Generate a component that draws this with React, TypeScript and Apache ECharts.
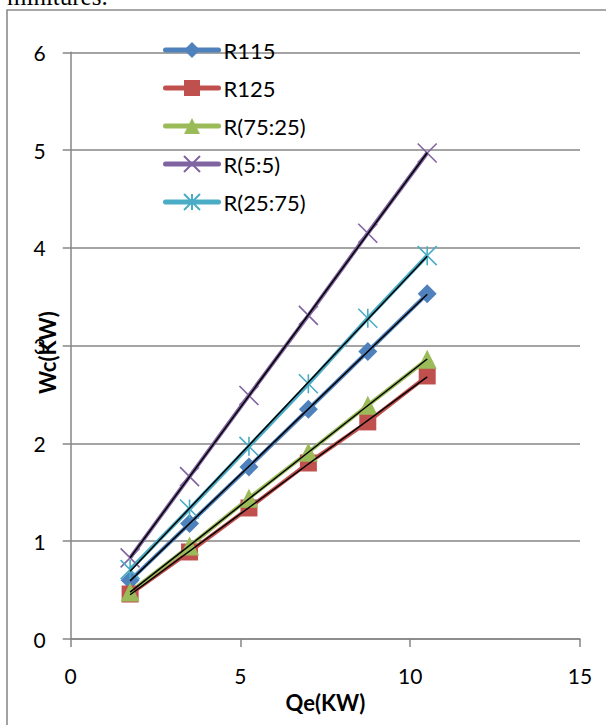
import React, { useEffect, useRef } from "react";
import * as echarts from "echarts";

const qe = [1.75, 3.5, 5.25, 7, 8.75, 10.5];
const r115 = [0.6, 1.18, 1.76, 2.35, 2.94, 3.53];
const r125 = [0.46, 0.89, 1.34, 1.8, 2.22, 2.69];
const r7525 = [0.48, 0.95, 1.44, 1.91, 2.39, 2.86];
const r55 = [0.83, 1.66, 2.49, 3.31, 4.15, 4.97];
const r2575 = [0.71, 1.33, 1.97, 2.61, 3.28, 3.92];

const seriesNames = ["R115", "R125", "R(75:25)", "R(5:5)", "R(25:75)"];
const seriesValues = [r115, r125, r7525, r55, r2575];
const seriesColors = ["#4F81BD", "#C0504D", "#9BBB59", "#8064A2", "#4BACC6"];
const seriesSymbols = [
  "diamond",
  "rect",
  "triangle",
  "path://M0,0L20,20M20,0L0,20",
  "path://M0,0L20,20M20,0L0,20M10,0L10,20",
];
const symbolSizes = [19, 17, 19, 19, 19];

const FONT = "Lato";

function fit(xs: number[], ys: number[]) {
  const n = xs.length;
  const mx = xs.reduce((a, b) => a + b, 0) / n;
  const my = ys.reduce((a, b) => a + b, 0) / n;
  let sxy = 0;
  let sxx = 0;
  for (let i = 0; i < n; i++) {
    sxy += (xs[i] - mx) * (ys[i] - my);
    sxx += (xs[i] - mx) * (xs[i] - mx);
  }
  const b = sxy / sxx;
  const a = my - b * mx;
  const x0 = xs[0];
  const x1 = xs[n - 1];
  return [
    [x0, a + b * x0],
    [x1, a + b * x1],
  ];
}

export default function App() {
  const ref = useRef<HTMLDivElement>(null);
  useEffect(() => {
    const chart = echarts.init(ref.current!, null, { renderer: "svg" });
    const dataSeries = seriesNames.map((name, i) => {
      const isStroke = i >= 3;
      return {
        name,
        type: "line",
        data: qe.map((x, j) => [x, seriesValues[i][j]]),
        symbol: seriesSymbols[i],
        symbolSize: symbolSizes[i],
        showAllSymbol: true,
        lineStyle: { color: seriesColors[i], width: 4 },
        itemStyle: {
          color: seriesColors[i],
          borderColor: seriesColors[i],
          borderWidth: isStroke ? 1.6 : 0,
        },
        z: 2,
      };
    });
    const trendSeries = seriesNames.map((name, i) => ({
      name: name + " trend",
      type: "line",
      data: fit(qe, seriesValues[i]),
      symbol: "none",
      lineStyle: { color: "#000", width: 1.5 },
      z: 4,
      silent: true,
    }));
    const option: any = {
      animation: false,
      backgroundColor: "#fff",
      graphic: [
        {
          type: "rect",
          shape: { x: 7, y: 10, width: 700, height: 800 },
          style: { fill: "none", stroke: "#8c8c8c", lineWidth: 1.6 },
          z: -1,
        },
        {
          type: "text",
          x: 7,
          y: -16,
          style: {
            text: "minitures.",
            font: '25px "Liberation Serif"',
            fill: "#000",
            verticalAlign: "top",
          },
        },
      ],
      grid: { left: 70.7, right: 26, top: 52.3, bottom: 86, containLabel: false },
      legend: {
        data: seriesNames,
        orient: "vertical",
        left: 158,
        top: 33,
        itemWidth: 53,
        itemHeight: 20,
        itemGap: 14,
        textStyle: { fontFamily: FONT, fontSize: 22, color: "#000", lineHeight: 24 },
        lineStyle: { width: 5, cap: "round" },
      },
      xAxis: {
        type: "value",
        min: 0,
        max: 15,
        interval: 5,
        name: "Qe(KW)",
        nameLocation: "middle",
        nameGap: 52,
        nameMoveOverlap: false,
        nameTextStyle: { fontFamily: FONT, fontSize: 22, fontWeight: "bold", color: "#000" },
        axisLine: { show: true, lineStyle: { color: "#868686", width: 1.5 } },
        axisTick: { show: true, inside: false, length: 8, lineStyle: { color: "#868686", width: 1.5 } },
        axisLabel: { fontFamily: FONT, fontSize: 21, color: "#000", margin: 26 },
        splitLine: { show: false },
      },
      yAxis: {
        type: "value",
        min: 0,
        max: 6,
        interval: 1,
        name: "Wc(KW)",
        nameLocation: "middle",
        nameGap: 12,
        nameRotate: 90,
        nameMoveOverlap: false,
        nameTextStyle: { fontFamily: FONT, fontSize: 22, fontWeight: "bold", color: "#000", padding: [0, 14, 0, 0] },
        axisLine: { show: true, lineStyle: { color: "#868686", width: 1.5 } },
        axisTick: { show: true, inside: false, length: 8, lineStyle: { color: "#868686", width: 1.5 } },
        axisLabel: { fontFamily: FONT, fontSize: 21, color: "#000", margin: 25 },
        splitLine: { show: true, lineStyle: { color: "#868686", width: 1.5 } },
      },
      series: [...dataSeries, ...trendSeries],
    };
    chart.setOption(option);
    return () => chart.dispose();
  }, []);
  return (
    <div
      ref={ref}
      style={{ position: "fixed", left: 0, top: 0, width: 606, height: 725, background: "#fff" }}
    />
  );
}
